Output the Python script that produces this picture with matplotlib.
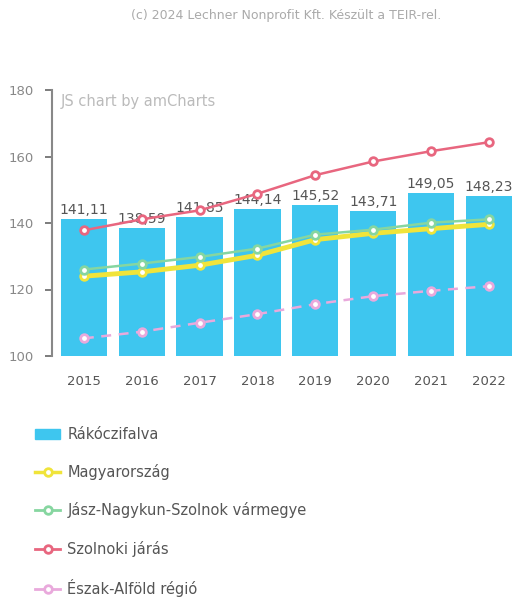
import matplotlib
matplotlib.use("Agg")
import matplotlib.pyplot as plt
from matplotlib.lines import Line2D
from matplotlib.patches import Patch

years = ["2015", "2016", "2017", "2018", "2019", "2020", "2021", "2022"]
rakoczifalva = [141.11, 138.59, 141.85, 144.14, 145.52, 143.71, 149.05, 148.23]
magyarorszag = [124.0, 125.3, 127.3, 130.3, 135.0, 136.9, 138.3, 139.6]
jnsz = [126.0, 127.8, 129.8, 132.3, 136.5, 138.0, 140.1, 141.1]
szolnoki = [137.8, 141.1, 143.8, 148.8, 154.4, 158.5, 161.6, 164.3]
eszak_alfold = [105.3, 107.3, 110.0, 112.6, 115.6, 118.0, 119.6, 121.0]

series_names = ["Rákóczifalva", "Magyarország", "Jász-Nagykun-Szolnok vármegye",
                "Szolnoki járás", "Észak-Alföld régió"]
yticks = [100, 120, 140, 160, 180]

BAR = "#3ec6ef"
YEL = "#f0e43a"
GRN = "#86d6a0"
RED = "#e8667f"
PNK = "#e9a9dc"
GRAY = "#666666"

plt.rcParams['font.family'] = ['DejaVu Sans']
fig = plt.figure(figsize=(5.15, 5.98), dpi=100)
ax = fig.add_axes([52/515, (598-356)/598, 463/515, (356-90)/598])

x = list(range(len(years)))
ax.bar(x, [v - 100 for v in rakoczifalva], bottom=100, width=0.8, color=BAR, zorder=2)
for xi, v in zip(x, rakoczifalva):
    ax.text(xi, v + 0.6, f"{v:.2f}".replace(".", ","), ha="center", va="bottom",
            fontsize=10, color="#555555", zorder=3)

mk = dict(marker="o", markerfacecolor="white", markersize=5.5, markeredgewidth=2)
ax.plot(x, magyarorszag, color=YEL, lw=3.5, markeredgecolor=YEL, zorder=4, **mk)
ax.plot(x, jnsz, color=GRN, lw=1.8, markeredgecolor=GRN, zorder=5, **mk)
ax.plot(x, szolnoki, color=RED, lw=1.8, markeredgecolor=RED, zorder=6, **mk)
ax.plot(x, eszak_alfold, color=PNK, lw=1.8, ls=(0, (4, 3)), markeredgecolor=PNK, zorder=6, **mk)

ax.set_xlim(-0.55, 7.45)
ax.set_ylim(100, 180)
ax.set_yticks(yticks)
ax.set_xticks(x)
ax.set_xticklabels(years)
ax.tick_params(axis="y", colors=GRAY, labelsize=9.5, length=5, width=1.2,
               direction="out", pad=8)
ax.tick_params(axis="x", length=0, labelsize=9.5, labelcolor="#555555", pad=14)
for t in ax.get_yticklabels():
    t.set_color("#888888")
for s in ["top", "right", "bottom"]:
    ax.spines[s].set_visible(False)
ax.spines["left"].set_color("#888888")
ax.spines["left"].set_linewidth(1.5)

ax.text(0.018, 0.955, "JS chart by amCharts", transform=ax.transAxes, fontsize=10.5,
        color="#bbbbbb", ha="left", va="center")
fig.text(286/515, 1 - 15/598, "(c) 2024 Lechner Nonprofit Kft. Készült a TEIR-rel.",
         fontsize=9, color="#aaaaaa", ha="center", va="center")

handles = [
    Patch(facecolor=BAR, edgecolor=BAR),
    Line2D([], [], color=YEL, lw=2.5, markeredgecolor=YEL, **mk),
    Line2D([], [], color=GRN, lw=2, markeredgecolor=GRN, **mk),
    Line2D([], [], color=RED, lw=2, markeredgecolor=RED, **mk),
    Line2D([], [], color=PNK, lw=2, markeredgecolor=PNK, **mk),
]
leg = fig.legend(handles, series_names, loc="upper left",
                 bbox_to_anchor=(22/515, 1 - 414/598), frameon=False,
                 fontsize=10.5, labelspacing=1.52, handlelength=1.7, handletextpad=0.5)
for t in leg.get_texts():
    t.set_color("#555555")

fig.savefig("out.png", dpi=100)
